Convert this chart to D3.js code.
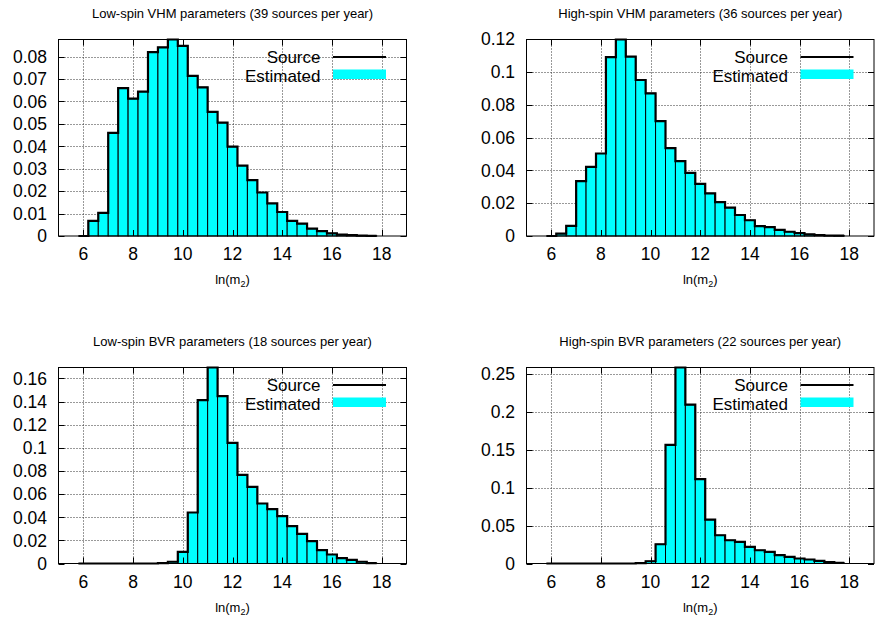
<!DOCTYPE html>
<html>
<head>
<meta charset="utf-8">
<script src="https://cdn.jsdelivr.net/npm/d3@7/dist/d3.min.js"></script>
<style>
  html, body { margin: 0; padding: 0; background: #fff; }
  svg { display: block; }
  text { font-family: "Liberation Sans", Arial, Helvetica, sans-serif; fill: #000; }
</style>
</head>
<body>
<svg id="chart" width="875" height="619"></svg>
<script>
// ---- data ----
const binStart = [5.8, 6.2, 6.6, 7.0, 7.4, 7.8, 8.2, 8.6, 9.0, 9.4,
                  9.8, 10.2, 10.6, 11.0, 11.4, 11.8, 12.2, 12.6, 13.0, 13.4,
                  13.8, 14.2, 14.6, 15.0, 15.4, 15.8, 16.2, 16.6, 17.0, 17.4];
const binWidth = 0.4;

const lowVHM = [0, 0.0067, 0.0103, 0.046, 0.0659, 0.0612, 0.0644, 0.082, 0.0841, 0.0876,
                0.0848, 0.0714, 0.0663, 0.0553, 0.0505, 0.0398, 0.0314, 0.0249, 0.0194, 0.0145,
                0.0107, 0.0067, 0.0055, 0.0033, 0.0022, 0.0012, 0.0006, 0.0004, 0.0002, 0.0001];
const highVHM = [0, 0.0015, 0.0062, 0.0334, 0.0422, 0.0503, 0.109, 0.1198, 0.1094, 0.0951,
                 0.087, 0.070, 0.0536, 0.0456, 0.0385, 0.0318, 0.026, 0.0206, 0.0173, 0.0128,
                 0.0096, 0.006, 0.0054, 0.0037, 0.0026, 0.0018, 0.001, 0.0006, 0.0003, 0.0002];
const lowBVR = [0, 0, 0, 0, 0, 0, 0, 0, 0.0003, 0.0015,
                0.0101, 0.0441, 0.1413, 0.1695, 0.1447, 0.1044, 0.0767, 0.0663, 0.0519, 0.047,
                0.041, 0.0323, 0.0257, 0.0193, 0.0115, 0.0078, 0.0046, 0.0032, 0.0015, 0.0004];
const highBVR = [0, 0, 0, 0, 0, 0, 0, 0, 0, 0.0005,
                 0.003, 0.0254, 0.1566, 0.2587, 0.2096, 0.1114, 0.0579, 0.0373, 0.0307, 0.0285,
                 0.0219, 0.0175, 0.0154, 0.011, 0.0088, 0.0066, 0.0053, 0.0035, 0.002, 0.001];

const titles = [
  "Low-spin VHM parameters (39 sources per year)",
  "High-spin VHM parameters (36 sources per year)",
  "Low-spin BVR parameters (18 sources per year)",
  "High-spin BVR parameters (22 sources per year)"
];
const xTicks = [6, 8, 10, 12, 14, 16, 18];
const yTicks1 = [0, 0.01, 0.02, 0.03, 0.04, 0.05, 0.06, 0.07, 0.08];
const yTicks2 = [0, 0.02, 0.04, 0.06, 0.08, 0.1, 0.12];
const yTicks3 = [0, 0.02, 0.04, 0.06, 0.08, 0.1, 0.12, 0.14, 0.16];
const yTicks4 = [0, 0.05, 0.1, 0.15, 0.2, 0.25];
const xDomain = [5, 19];
const legendLabels = ["Source", "Estimated"];

// ---- layout ----
const panels = [
  { values: lowVHM,  ticks: yTicks1, title: titles[0], left: 58.5,  right: 406.5, top: 39.5,  bottom: 236 },
  { values: highVHM, ticks: yTicks2, title: titles[1], left: 526.5, right: 874,   top: 39.5,  bottom: 236 },
  { values: lowBVR,  ticks: yTicks3, title: titles[2], left: 58.5,  right: 406.5, top: 367.5, bottom: 563.5 },
  { values: highBVR, ticks: yTicks4, title: titles[3], left: 526.5, right: 874,   top: 367.5, bottom: 563.5 }
];

const svg = d3.select("#chart");
const CYAN = "#00ffff";

panels.forEach(p => {
  const g = svg.append("g");
  const x = d3.scaleLinear().domain(xDomain).range([p.left, p.right]);
  const y = d3.scaleLinear().domain([0, d3.max(p.values)]).range([p.bottom, p.top]);
  const tickLen = 6;

  // grid
  const grid = g.append("g").attr("stroke", "#333").attr("stroke-width", 1)
    .attr("stroke-dasharray", "1,2").attr("fill", "none");
  xTicks.forEach(t => {
    grid.append("line").attr("x1", Math.round(x(t)) + 0.5).attr("x2", Math.round(x(t)) + 0.5)
      .attr("y1", p.top).attr("y2", p.bottom);
  });
  p.ticks.forEach(t => {
    if (t === 0) return;
    grid.append("line").attr("x1", p.left).attr("x2", p.right)
      .attr("y1", Math.round(y(t)) + 0.5).attr("y2", Math.round(y(t)) + 0.5);
  });

  // boxes (Estimated)
  const data = binStart.map((s, i) => ({ x0: s, x1: s + binWidth, v: p.values[i] }));
  g.append("g").selectAll("rect").data(data).join("rect")
    .attr("x", d => x(d.x0))
    .attr("width", d => x(d.x1) - x(d.x0))
    .attr("y", d => y(d.v))
    .attr("height", d => y(0) - y(d.v))
    .attr("fill", CYAN)
    .attr("stroke", "#000")
    .attr("stroke-width", 1);

  // step line (Source)
  let dPath = "M" + x(data[0].x0) + "," + y(data[0].v);
  data.forEach((d, i) => {
    dPath += "H" + x(d.x1);
    if (i < data.length - 1) dPath += "V" + y(data[i + 1].v);
  });
  g.append("path").attr("d", dPath).attr("fill", "none")
    .attr("stroke", "#000").attr("stroke-width", 2.2).attr("stroke-linejoin", "miter");

  // frame
  g.append("rect").attr("x", p.left).attr("y", p.top)
    .attr("width", p.right - p.left).attr("height", p.bottom - p.top)
    .attr("fill", "none").attr("stroke", "#000").attr("stroke-width", 1);

  // tick marks
  const tk = g.append("g").attr("stroke", "#000").attr("stroke-width", 1);
  xTicks.forEach(t => {
    const xx = Math.round(x(t)) + 0.5;
    tk.append("line").attr("x1", xx).attr("x2", xx).attr("y1", p.bottom).attr("y2", p.bottom - tickLen);
    tk.append("line").attr("x1", xx).attr("x2", xx).attr("y1", p.top).attr("y2", p.top + tickLen);
  });
  p.ticks.forEach(t => {
    const yy = Math.round(y(t)) + 0.5;
    tk.append("line").attr("x1", p.left).attr("x2", p.left + tickLen).attr("y1", yy).attr("y2", yy);
    tk.append("line").attr("x1", p.right).attr("x2", p.right - tickLen).attr("y1", yy).attr("y2", yy);
  });

  // tick labels
  g.append("g").selectAll("text").data(xTicks).join("text")
    .attr("x", d => x(d)).attr("y", p.bottom + 24)
    .attr("text-anchor", "middle").attr("font-size", 17.5)
    .text(d => d);
  g.append("g").selectAll("text").data(p.ticks).join("text")
    .attr("x", p.left - 11.5).attr("y", d => y(d)).attr("dy", "0.36em")
    .attr("text-anchor", "end").attr("font-size", 17.5)
    .text(d => String(d));

  // title
  g.append("text").attr("x", (p.left + p.right) / 2).attr("y", p.top - 22)
    .attr("text-anchor", "middle").attr("font-size", 13).text(p.title);

  // x label ln(m2)
  const xl = g.append("text").attr("x", (p.left + p.right) / 2).attr("y", p.bottom + 48)
    .attr("text-anchor", "middle").attr("font-size", 13);
  xl.append("tspan").text("ln(m");
  xl.append("tspan").attr("font-size", 9).attr("dy", 3).text("2");
  xl.append("tspan").attr("dy", -3).text(")");

  // legend
  const lx1 = p.right - 73.5, lx2 = p.right - 20.5, tx = p.right - 86;
  const lg = g.append("g");
  lg.append("text").attr("x", tx).attr("y", p.top + 23).attr("text-anchor", "end")
    .attr("font-size", 17).text(legendLabels[0]);
  lg.append("line").attr("x1", lx1).attr("x2", lx2).attr("y1", p.top + 17.5).attr("y2", p.top + 17.5)
    .attr("stroke", "#000").attr("stroke-width", 2.2);
  lg.append("text").attr("x", tx).attr("y", p.top + 42.5).attr("text-anchor", "end")
    .attr("font-size", 17).text(legendLabels[1]);
  lg.append("rect").attr("x", lx1).attr("width", lx2 - lx1).attr("y", p.top + 30).attr("height", 9.5)
    .attr("fill", CYAN);
});
</script>
</body>
</html>
